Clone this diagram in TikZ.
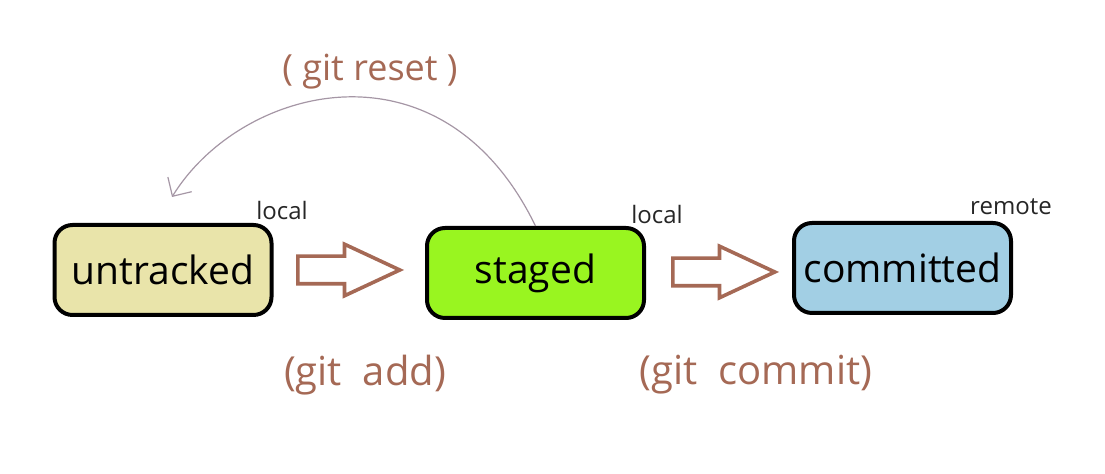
\documentclass[tikz,border=0pt]{standalone}
\usepackage{fontspec}
\setmainfont{Open Sans}
\usetikzlibrary{shapes.geometric, shapes.arrows, positioning, arrows.meta}
\definecolor{beige}{RGB}{233,228,170}
\definecolor{lime}{RGB}{153,245,32}
\definecolor{skyblue}{RGB}{162,207,228}
\definecolor{brownish}{RGB}{165,105,85}
\definecolor{curvecol}{RGB}{165,150,165}

\begin{document}
\begin{tikzpicture}[x=0.5pt, y=-0.5pt]

    % Рамка рисунка
    \useasboundingbox (0,0) rectangle (1105,474);

    % Стили
    \tikzstyle{state} = [rectangle, draw=black, line width=2pt, rounded corners=9pt,
                         minimum width=108.5pt, minimum height=45pt,
                         align=center, font=\fontsize{19.5}{22}\selectfont]
    \tikzstyle{hollow} = [single arrow, draw=brownish, line width=1.8pt, fill=white,
                          minimum height=51pt, inner sep=6pt, anchor=tail,
                          single arrow head extend=6pt, single arrow tip angle=50]
    \tikzstyle{cmd} = [text=brownish, font=\fontsize{20}{24}\selectfont]
    \tikzstyle{place} = [text=black!85, font=\fontsize{12}{14}\selectfont]

    % Первое состояние
    \node[state, fill=beige] (untracked) at (163,270) {untracked};

    % Второе состояние
    \node[state, fill=lime] (staged) at (535.5,273) {staged};

    % Третье состояние
    \node[state, fill=skyblue] (committed) at (902.5,268) {committed};

    % Подписи мест
    \node[place] (loc1) at (282,211) {local};
    \node[place] (loc2) at (657,215) {local};
    \node[place] (rem) at (1011,207) {remote};

    % Полые стрелки
    \node[hollow] (add) at (296,270) {};
    \node[hollow] (commit) at (671,272) {};

    % Команды
    \node[cmd] (addtxt) at (365,375) {(git\ \ add)};
    \node[cmd] (committxt) at (756,375) {(git\ \ commit)};
    \node[cmd, font=\fontsize{18}{22}\selectfont] (resettxt) at (370,72) {(\ git reset\ )};

    % Дуга назад
    \coordinate (back) at (172,197);
    \draw[curvecol, line width=0.6pt, -{Straight Barb[length=7pt,width=14pt]}]
        (staged.north) .. controls (442,33) and (241,85) .. (back);

\end{tikzpicture}
\end{document}
